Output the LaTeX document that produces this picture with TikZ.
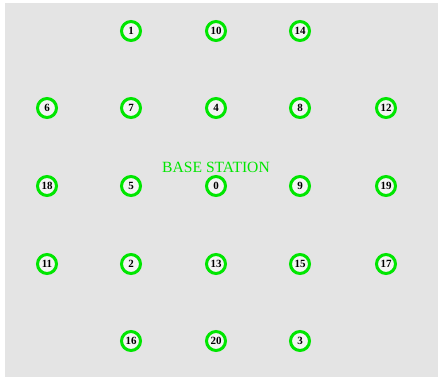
\documentclass[tikz,border=0pt]{standalone}
\usepackage{fontspec}
\setmainfont{Liberation Serif}
\usepackage{tikz}
\usetikzlibrary{positioning}

\definecolor{bgray}{RGB}{228,228,228}
\definecolor{sgreen}{RGB}{0,230,0}

\tikzset{
    sensor/.style={circle, draw=sgreen, line width=3pt, fill=bgray!40,
        minimum size=19pt, inner sep=0pt, font=\fontsize{11}{11}\selectfont\bfseries},
    bslabel/.style={text=sgreen, font=\fontsize{15.6}{15.6}\selectfont}
}

\begin{document}
\begin{tikzpicture}[x=1pt, y=-1pt]
    % frame and background
    \useasboundingbox (0,0) rectangle (438,377);
    \fill[bgray] (5,3) rectangle (438,377);
    % sensor nodes on the grid
    \foreach \id/\cx/\cy in {1/131/31, 10/216/31, 14/300/31,
        6/47/108, 7/131/108, 4/216/108, 8/300/108, 12/386/108,
        18/47/186, 5/131/186, 0/216/186, 9/300/186, 19/386/186,
        11/47/264, 2/131/264, 13/216/264, 15/300/264, 17/386/264,
        16/131/341, 20/216/341, 3/300/341}
        \node[sensor] (n\id) at (\cx,\cy) {\id};
    % base station label
    \node[bslabel, above=-1.5pt of n0] (bs) {BASE STATION};
\end{tikzpicture}
\end{document}
